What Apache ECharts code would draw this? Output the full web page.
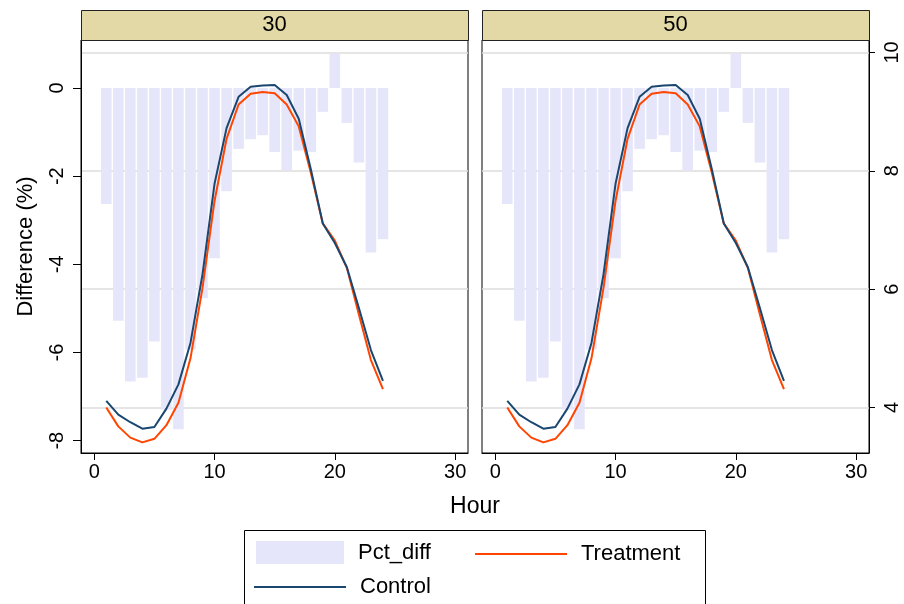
<!DOCTYPE html>
<html>
<head>
<meta charset="utf-8">
<script src="https://cdn.jsdelivr.net/npm/echarts@6/dist/echarts.min.js"></script>
<style>
  html, body { margin: 0; padding: 0; background: #fff; }
  #chart { width: 904px; height: 604px; }
</style>
</head>
<body>
<div id="chart"></div>
<script>
// Hourly profile: percentage difference (bars, left axis) and the two groups (lines, right axis)
const hours = [1, 2, 3, 4, 5, 6, 7, 8, 9, 10, 11, 12, 13, 14, 15, 16, 17, 18, 19, 20, 21, 22, 23, 24];
const pctDiff = [-2.63, -5.28, -6.66, -6.57, -5.75, -7.30, -7.74, -5.93, -4.77, -3.86, -2.34, -1.38,
                 -1.16, -1.07, -1.45, -1.87, -1.42, -1.45, -0.54, 0.78, -0.79, -1.69, -3.73, -3.43];
const control = [4.11, 3.88, 3.75, 3.64, 3.67, 3.98, 4.39, 5.09, 6.25, 7.78, 8.72, 9.25,
                 9.42, 9.44, 9.45, 9.28, 8.88, 8.03, 7.11, 6.78, 6.37, 5.68, 4.97, 4.45];
const treatment = [4.00, 3.68, 3.49, 3.41, 3.47, 3.70, 4.08, 4.83, 6.02, 7.49, 8.54, 9.12,
                   9.30, 9.33, 9.31, 9.12, 8.75, 7.97, 7.11, 6.82, 6.36, 5.57, 4.80, 4.31];
const panels = ['30', '50'];
const xTicks = [0, 10, 20, 30];
const leftTicks = [-8, -6, -4, -2, 0];
const rightTicks = [4, 6, 8, 10];

const FONT = "'Liberation Sans', Arial, sans-serif";
const BAR_COLOR = '#e6e6fa';
const CONTROL_COLOR = '#1a476f';
const TREAT_COLOR = '#ff4500';

const gridLeft = [81, 482];
const gridTop = 40, gridW = 387, gridH = 413;

const pairs = (ys) => hours.map((h, i) => [h, ys[i]]);

const grid = [], xAxis = [], yAxis = [], series = [], graphic = [];

panels.forEach((label, p) => {
  const isFirst = p === 0, isLast = p === panels.length - 1;
  grid.push({
    left: gridLeft[p], top: gridTop, width: gridW, height: gridH,
    show: true, borderColor: '#000', borderWidth: 1, backgroundColor: '#fff', containLabel: false
  });
  xAxis.push({
    type: 'value', gridIndex: p, min: -1.1, max: 31.07,
    axisLine: { show: true, onZero: false, lineStyle: { color: '#000', width: 1 } },
    axisTick: { show: true, length: 7, lineStyle: { color: '#000' }, customValues: xTicks },
    axisLabel: { customValues: xTicks, color: '#000', fontSize: 20, fontFamily: FONT, margin: 9 },
    splitLine: { show: false }
  });
  // left axis: percentage difference
  yAxis.push({
    type: 'value', gridIndex: p, position: 'left', min: -8.28, max: 1.09,
    name: isFirst ? 'Difference (%)' : '', nameLocation: 'middle', nameRotate: 90, nameGap: 44,
    nameTextStyle: { color: '#000', fontSize: 22, fontFamily: FONT },
    axisLine: { show: isFirst, onZero: false, lineStyle: { color: '#000' } },
    axisTick: { show: isFirst, length: 8, lineStyle: { color: '#000' }, customValues: leftTicks },
    axisLabel: { show: isFirst, customValues: leftTicks, rotate: 90, color: '#000', fontSize: 20, fontFamily: FONT, margin: 14 },
    splitLine: { show: false }
  });
  // right axis: level, carries the grid lines
  yAxis.push({
    type: 'value', gridIndex: p, position: 'right', min: 3.23, max: 10.21,
    axisLine: { show: isLast, onZero: false, lineStyle: { color: '#000' } },
    axisTick: { show: isLast, length: 6, lineStyle: { color: '#000' }, customValues: rightTicks },
    axisLabel: { show: isLast, customValues: rightTicks, rotate: 90, color: '#000', fontSize: 20, fontFamily: FONT, margin: 13 },
    splitLine: { show: true, lineStyle: { color: '#dcdcdc', width: 1.5 } }
  });

  series.push({
    name: 'Pct_diff', type: 'bar', xAxisIndex: p, yAxisIndex: 2 * p,
    data: pairs(pctDiff), barWidth: 10.6, itemStyle: { color: BAR_COLOR }, z: 1, silent: true
  });
  series.push({
    name: 'Treatment', type: 'line', xAxisIndex: p, yAxisIndex: 2 * p + 1,
    data: pairs(treatment), symbol: 'none', lineStyle: { color: TREAT_COLOR, width: 2 },
    itemStyle: { color: TREAT_COLOR }, z: 3, silent: true
  });
  series.push({
    name: 'Control', type: 'line', xAxisIndex: p, yAxisIndex: 2 * p + 1,
    data: pairs(control), symbol: 'none', lineStyle: { color: CONTROL_COLOR, width: 2 },
    itemStyle: { color: CONTROL_COLOR }, z: 4, silent: true
  });

  // panel header strip
  graphic.push({
    type: 'rect', left: gridLeft[p], top: 10, z: 10,
    shape: { width: gridW, height: 30 },
    style: { fill: '#e3d9a6', stroke: '#222', lineWidth: 1 }
  });
  graphic.push({
    type: 'text', x: gridLeft[p] + gridW / 2, y: 25, z: 11,
    style: { text: label, fill: '#000', font: '22px ' + FONT, textAlign: 'center', textVerticalAlign: 'middle' }
  });
});

// shared x title
graphic.push({
  type: 'text', x: 475, y: 507, z: 11,
  style: { text: 'Hour', fill: '#000', font: '23px ' + FONT, textAlign: 'center', textVerticalAlign: 'middle' }
});
// legend frame
graphic.push({
  type: 'rect', left: 244, top: 530, z: 0,
  shape: { width: 461, height: 100 },
  style: { fill: '#fff', stroke: '#000', lineWidth: 1 }
});

const legendBase = {
  orient: 'horizontal', padding: 0, itemGap: 0, selectedMode: false, z: 20,
  textStyle: { color: '#000', fontSize: 22, fontFamily: FONT, padding: [0, 0, 0, 9] }
};
const legend = [
  Object.assign({}, legendBase, { left: 256, top: 541, itemWidth: 88, itemHeight: 23, data: [{ name: 'Pct_diff', icon: 'rect' }] }),
  Object.assign({}, legendBase, { left: 475, top: 543, itemWidth: 92, itemHeight: 2, data: [{ name: 'Treatment', icon: 'rect' }] }),
  Object.assign({}, legendBase, { left: 254, top: 576, itemWidth: 92, itemHeight: 2, data: [{ name: 'Control', icon: 'rect' }] })
];

const chart = echarts.init(document.getElementById('chart'), null, { renderer: 'canvas' });
chart.setOption({
  backgroundColor: '#fff',
  animation: false,
  grid, xAxis, yAxis, series, graphic, legend
});
</script>
</body>
</html>
